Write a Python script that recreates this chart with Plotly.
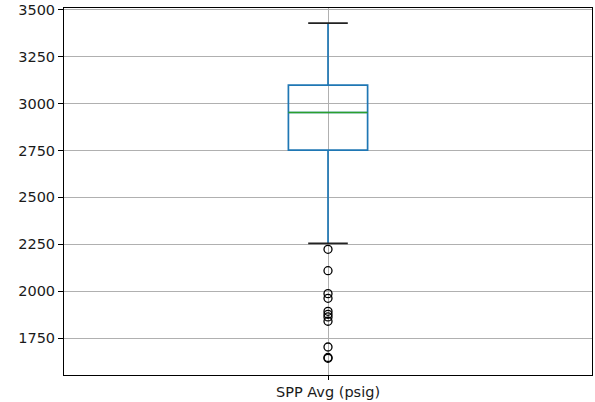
import plotly.graph_objects as go

# Data
category = "SPP Avg (psig)"
q1 = 2752
median = 2952
q3 = 3098
lower_whisker = 2255
upper_whisker = 3428
outliers = [2224, 2110, 1988, 1963, 1894, 1878, 1864, 1841, 1704, 1648, 1644]
y_ticks = [1750, 2000, 2250, 2500, 2750, 3000, 3250, 3500]

pos = 1.0
box_w = 0.15
cap_half = box_w / 4

fig = go.Figure()

fig.add_trace(go.Box(
    x=[pos], q1=[q1], median=[median], q3=[q3],
    lowerfence=[lower_whisker], upperfence=[upper_whisker],
    width=box_w, whiskerwidth=0, boxpoints=False,
    fillcolor="rgba(0,0,0,0)",
    line=dict(color="#1f77b4", width=1.7),
    hoverinfo="skip", showlegend=False,
))

# median line (green)
fig.add_trace(go.Scatter(
    x=[pos - box_w / 2, pos + box_w / 2], y=[median, median],
    mode="lines", line=dict(color="#2ca02c", width=1.6),
    showlegend=False, hoverinfo="skip",
))

# caps (black)
for v in (lower_whisker, upper_whisker):
    fig.add_trace(go.Scatter(
        x=[pos - cap_half, pos + cap_half], y=[v, v],
        mode="lines", line=dict(color="#222222", width=1.7),
        showlegend=False, hoverinfo="skip",
    ))

# outliers
fig.add_trace(go.Scatter(
    x=[pos] * len(outliers), y=outliers, mode="markers",
    marker=dict(symbol="circle-open", size=8, color="black", line=dict(width=1.3)),
    showlegend=False, hoverinfo="skip",
))

fig.update_layout(
    width=595, height=402,
    margin=dict(l=64, r=2, t=6, b=27),
    plot_bgcolor="white", paper_bgcolor="white",
    font=dict(family="DejaVu Sans", size=14.5, color="#1a1a1a"),
)
fig.update_xaxes(
    range=[0.5, 1.5], tickvals=[pos], ticktext=[category],
    showgrid=True, gridcolor="#b0b0b0", gridwidth=0.8,
    showline=True, linecolor="black", linewidth=1, mirror=True,
    ticks="outside", ticklen=4, tickcolor="black", zeroline=False,
)
fig.update_yaxes(
    range=[1555, 3508], tickvals=y_ticks, ticklabeloverflow="allow",
    showgrid=True, gridcolor="#b0b0b0", gridwidth=0.8,
    showline=True, linecolor="black", linewidth=1, mirror=True,
    ticks="outside", ticklen=5, tickcolor="black", zeroline=False,
)

fig.write_html("out.html")
